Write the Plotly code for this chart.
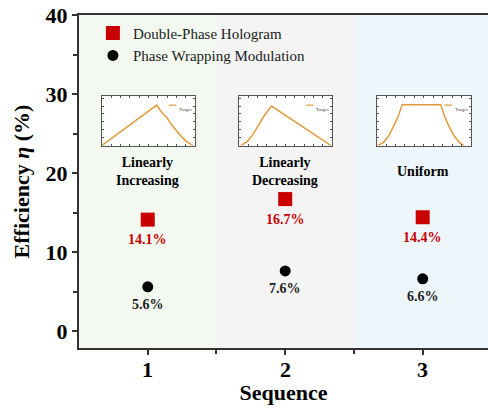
import plotly.graph_objects as go

# Efficiency of the two modulation schemes for three target sequences
sequences = [1, 2, 3]
region_names = ["Linearly<br>Increasing", "Linearly<br>Decreasing", "Uniform"]
region_colors = ["#f3f9f0", "#f4f4f4", "#edf6fb"]
dph_eff = [14.1, 16.7, 14.4]   # Double-Phase Hologram
pwm_eff = [5.6, 7.6, 6.6]      # Phase Wrapping Modulation
y_ticks = [0, 10, 20, 30, 40]

# Target intensity profiles shown in the small insets (normalised units)
prof_inc_x = [0.0, 0.59, 0.64, 0.70, 0.75, 0.80, 0.86, 0.91, 0.98]
prof_inc_y = [0.0, 0.82, 0.68, 0.56, 0.42, 0.30, 0.17, 0.08, 0.0]
prof_dec_x = [0.02, 0.09, 0.15, 0.21, 0.27, 0.35, 0.99]
prof_dec_y = [0.0, 0.08, 0.22, 0.40, 0.60, 0.80, 0.0]
prof_uni_x = [0.01, 0.07, 0.13, 0.19, 0.23, 0.27, 0.68, 0.72, 0.76, 0.82, 0.88, 0.93]
prof_uni_y = [0.0, 0.06, 0.20, 0.42, 0.60, 0.83, 0.83, 0.60, 0.42, 0.20, 0.06, 0.0]
profiles = [(prof_inc_x, prof_inc_y), (prof_dec_x, prof_dec_y), (prof_uni_x, prof_uni_y)]

SERIF = "Liberation Serif"
RED = "#c80000"
ORANGE = "#e39a3b"

fig = go.Figure()

fig.add_trace(go.Scatter(
    x=sequences, y=dph_eff, mode="markers", name="Double-Phase Hologram",
    marker=dict(symbol="square", size=14, color=RED),
))
fig.add_trace(go.Scatter(
    x=sequences, y=pwm_eff, mode="markers", name="Phase Wrapping Modulation",
    marker=dict(symbol="circle", size=11, color="black"),
))

# background bands, one per sequence
shapes = []
for s, c in zip(sequences, region_colors):
    shapes.append(dict(type="rect", xref="x", yref="y domain", x0=s - 0.5, x1=s + 0.5,
                       y0=0, y1=1, fillcolor=c, line_width=0, layer="below"))

annotations = []
for s, name in zip(sequences, region_names):
    annotations.append(dict(x=s, y=20.2, xref="x", yref="y", text=name, showarrow=False,
                            font=dict(family=SERIF, size=14, color="black", weight="bold"),
                            align="center"))

# sequence numbers under the x axis, set close to the axis line
for s in sequences:
    annotations.append(dict(x=s, y=0, xref="x", yref="paper", text=str(s), showarrow=False,
                            yanchor="top", yshift=-7,
                            font=dict(family=SERIF, size=22, color="black", weight="bold")))

# value labels under each marker
for s, v in zip(sequences, dph_eff):
    annotations.append(dict(x=s, y=v, xref="x", yref="y", text=f"{v:.1f}%", showarrow=False,
                            yshift=-20, font=dict(family=SERIF, size=14, color=RED, weight="bold")))
for s, v in zip(sequences, pwm_eff):
    annotations.append(dict(x=s, y=v, xref="x", yref="y", text=f"{v:.1f}%", showarrow=False,
                            yshift=-18, font=dict(family=SERIF, size=14, color="#222222",
                                                  weight="bold")))

# inset axes with the target profiles
inset_x_domains = [(0.0555, 0.2836), (0.391, 0.6186), (0.728, 0.958)]
inset_y_domain = (0.608, 0.756)
layout_axes = {}
for i, ((px, py), dom) in enumerate(zip(profiles, inset_x_domains), start=2):
    fig.add_trace(go.Scatter(x=px, y=py, mode="lines", xaxis=f"x{i}", yaxis=f"y{i}",
                             line=dict(color=ORANGE, width=1.5), showlegend=False,
                             hoverinfo="skip", name="Target"))
    layout_axes[f"xaxis{i}"] = dict(domain=list(dom), anchor=f"y{i}", range=[0, 1],
                                    showline=True, mirror="ticks", linecolor="#555555",
                                    linewidth=1, ticks="inside", ticklen=2, tickwidth=0.8,
                                    tickcolor="#555555", dtick=0.1, showticklabels=False,
                                    showgrid=False, zeroline=False, fixedrange=True)
    layout_axes[f"yaxis{i}"] = dict(domain=list(inset_y_domain), anchor=f"x{i}", range=[0, 1],
                                    showline=True, mirror="ticks", linecolor="#555555",
                                    linewidth=1, ticks="inside", ticklen=2, tickwidth=0.8,
                                    tickcolor="#555555", dtick=0.16, showticklabels=False,
                                    showgrid=False, zeroline=False, fixedrange=True)
    shapes.append(dict(type="rect", xref=f"x{i} domain", yref=f"y{i} domain", x0=0, x1=1,
                       y0=0, y1=1, fillcolor="white", line_width=0, layer="below"))
    # small "Target" key
    shapes.append(dict(type="line", xref=f"x{i} domain", yref=f"y{i} domain", x0=0.72, x1=0.80,
                       y0=0.82, y1=0.82, line=dict(color=ORANGE, width=1.2)))
    annotations.append(dict(x=0.81, y=0.82, xref=f"x{i} domain", yref=f"y{i} domain",
                            text="Target", showarrow=False, xanchor="left",
                            font=dict(family=SERIF, size=5, color="#444444")))

fig.update_layout(
    width=488, height=408,
    margin=dict(l=79, r=0, t=15, b=60),
    paper_bgcolor="white", plot_bgcolor="white",
    font=dict(family=SERIF, color="black"),
    showlegend=True,
    legend=dict(x=0.034, y=0.995, xanchor="left", yanchor="top", bgcolor="rgba(0,0,0,0)",
                font=dict(family=SERIF, size=15, color="#222222"), tracegroupgap=0,
                itemsizing="trace"),
    xaxis=dict(range=[0.5, 3.475], tickvals=sequences, showticklabels=False,
               showline=True, linecolor="#333333", linewidth=2, mirror=True,
               ticks="outside", ticklen=5, tickwidth=2, tickcolor="#333333",
               minor=dict(tickvals=[1.5, 2.5], ticks="outside", ticklen=4, tickwidth=2,
                          tickcolor="#333333"),
               showgrid=False, zeroline=False,
               title=dict(text="Sequence", standoff=31,
                          font=dict(family=SERIF, size=22, color="black", weight="bold"))),
    yaxis=dict(range=[-2.15, 40], tickvals=y_ticks,
               showline=True, linecolor="#333333", linewidth=2,
               ticks="outside", ticklen=5, tickwidth=2, tickcolor="#333333",
               minor=dict(dtick=5, ticks="outside", ticklen=4, tickwidth=2, tickcolor="#333333"),
               tickfont=dict(family=SERIF, size=22, color="black", weight="bold"),
               showgrid=False, zeroline=False,
               title=dict(text="Efficiency <i>η</i> (%)", standoff=10,
                          font=dict(family=SERIF, size=22, color="black", weight="bold"))),
    shapes=shapes,
    annotations=annotations,
    **layout_axes,
)

fig.write_html("out.html")
